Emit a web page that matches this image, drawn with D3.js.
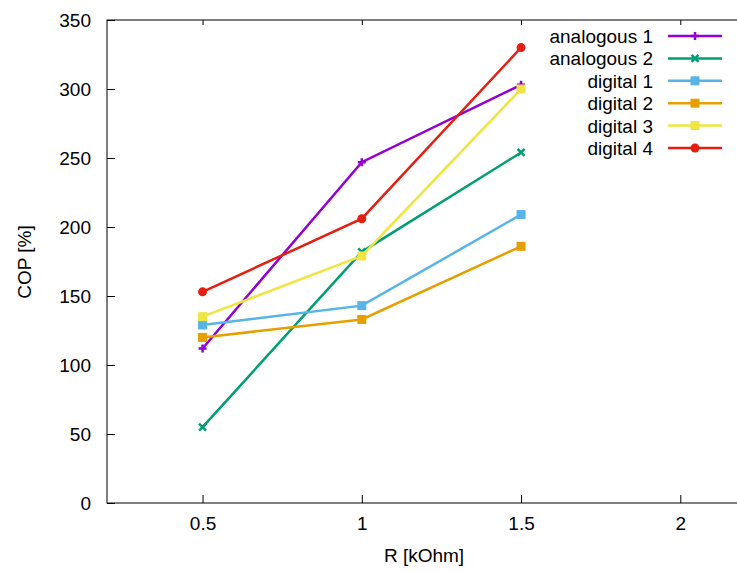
<!DOCTYPE html>
<html>
<head>
<meta charset="UTF-8">
<title>COP vs R</title>
<style>
  body { margin: 0; background: #fff; }
  svg text { font-family: "Liberation Sans", Arial, sans-serif; font-size: 19px; fill: #000; }
  .axis path, .axis line { stroke: #000; stroke-width: 1; }
</style>
<script src="https://cdnjs.cloudflare.com/ajax/libs/d3/7.8.5/d3.min.js"></script>
</head>
<body>
<div id="canvas"></div>
<script>
// data
var rValues = [0.5, 1, 1.5];
var seriesNames = ["analogous 1", "analogous 2", "digital 1", "digital 2", "digital 3", "digital 4"];
var analogous1 = [112, 247, 303];
var analogous2 = [55, 182, 254];
var digital1 = [129, 143, 209];
var digital2 = [120, 133, 186];
var digital3 = [135, 179, 300];
var digital4 = [153, 206, 330];
var xTicks = [0.5, 1, 1.5, 2];
var yTicks = [0, 50, 100, 150, 200, 250, 300, 350];

var colors = ["#9400d3", "#009e73", "#56b4e9", "#e69f00", "#f0e442", "#e51e10"];
var markers = ["plus", "cross", "square", "square", "square", "circle"];
var allValues = [analogous1, analogous2, digital1, digital2, digital3, digital4];

var width = 737, height = 572;
var margin = {top: 20, right: -7, bottom: 69, left: 107};
var innerW = width - margin.left - margin.right;
var innerH = height - margin.top - margin.bottom;

var x = d3.scaleLinear().domain([0.2, 2.2]).range([0, innerW]);
var y = d3.scaleLinear().domain([0, 350]).range([innerH, 0]);

var svg = d3.select("#canvas").append("svg")
  .attr("width", width).attr("height", height);
var g = svg.append("g")
  .attr("transform", "translate(" + margin.left + "," + margin.top + ")");

// frame
g.append("rect")
  .attr("width", innerW).attr("height", innerH)
  .attr("fill", "none").attr("stroke", "#000");

// axes (ticks inward, mirrored like gnuplot)
g.append("g").attr("class", "axis")
  .attr("transform", "translate(0," + innerH + ")")
  .call(d3.axisBottom(x).tickValues(xTicks).tickSizeInner(-8).tickSizeOuter(0).tickPadding(14)
    .tickFormat(d3.format("")))
  .call(function(a) { a.select(".domain").remove(); });
g.append("g").attr("class", "axis")
  .call(d3.axisTop(x).tickValues(xTicks).tickSizeInner(-5).tickSizeOuter(0).tickFormat(""))
  .call(function(a) { a.select(".domain").remove(); });
g.append("g").attr("class", "axis")
  .call(d3.axisLeft(y).tickValues(yTicks).tickSizeInner(-8).tickSizeOuter(0).tickPadding(16))
  .call(function(a) { a.select(".domain").remove(); });
g.selectAll(".axis text").style("font-size", "19px").style("font-family", "Liberation Sans, Arial, sans-serif");

// axis labels
svg.append("text")
  .attr("x", 424).attr("y", 562)
  .attr("text-anchor", "middle").text("R [kOhm]");
svg.append("text")
  .attr("transform", "translate(31,262) rotate(-90)")
  .attr("text-anchor", "middle").text("COP [%]");

function drawMarker(sel, type, color) {
  if (type === "plus") {
    sel.append("path").attr("d", "M-4,0H4M0,-4V4").attr("stroke", color).attr("stroke-width", 2.5).attr("fill", "none");
  } else if (type === "cross") {
    sel.append("path").attr("d", "M-3.5,-3.5L3.5,3.5M-3.5,3.5L3.5,-3.5").attr("stroke", color).attr("stroke-width", 2.5).attr("fill", "none");
  } else if (type === "square") {
    sel.append("rect").attr("x", -4.5).attr("y", -4.5).attr("width", 9).attr("height", 9).attr("fill", color);
  } else {
    sel.append("circle").attr("r", 4.5).attr("fill", color);
  }
}

var line = d3.line()
  .x(function(d, i) { return x(rValues[i]); })
  .y(function(d) { return y(d); });

allValues.forEach(function(vals, k) {
  g.append("path").datum(vals)
    .attr("d", line)
    .attr("fill", "none").attr("stroke", colors[k]).attr("stroke-width", 2.5);
  vals.forEach(function(v, i) {
    var m = g.append("g").attr("transform", "translate(" + x(rValues[i]) + "," + y(v) + ")");
    drawMarker(m, markers[k], colors[k]);
  });
});

// legend
var legend = svg.append("g");
seriesNames.forEach(function(name, k) {
  var ly = 36 + k * 22.4;
  legend.append("text").attr("x", 653).attr("y", ly + 7)
    .attr("text-anchor", "end").text(name);
  legend.append("line").attr("x1", 668).attr("x2", 722).attr("y1", ly).attr("y2", ly)
    .attr("stroke", colors[k]).attr("stroke-width", 2.5);
  var m = legend.append("g").attr("transform", "translate(695," + ly + ")");
  drawMarker(m, markers[k], colors[k]);
});
</script>
</body>
</html>
